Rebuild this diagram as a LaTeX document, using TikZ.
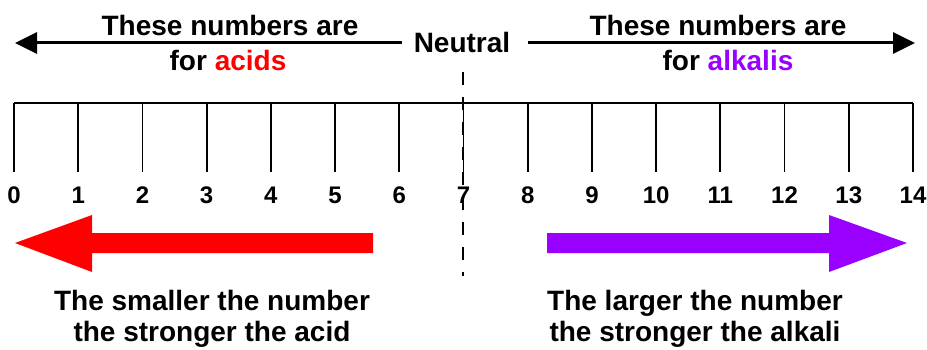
\documentclass[tikz,border=0pt]{standalone}
\usepackage{fontspec}
\setmainfont{Liberation Sans}
\usetikzlibrary{arrows.meta}
\definecolor{acidred}{RGB}{255,0,0}
\definecolor{alkpurple}{RGB}{153,0,255}
\tikzset{
  lbl/.style={font=\fontsize{28}{30}\selectfont\bfseries, inner sep=0pt, anchor=base},
  numlbl/.style={font=\fontsize{24}{26}\selectfont\bfseries, inner sep=0pt},
  rule/.style={line width=1.8pt, black},
  toparrow/.style={line width=3pt, -{Triangle[length=22pt,width=21pt]}},
  neutralline/.style={line width=1.6pt, dash pattern=on 13pt off 12pt},
}
\begin{document}
\begin{tikzpicture}[x=1pt,y=-1pt]
\useasboundingbox (0,0) rectangle (927,350);
% top texts
\node[lbl] (la1) at (230,36) {These numbers are};
\node[lbl] (la2) at (228,71) {for \textcolor{acidred}{acids}};
\node[lbl] (ra1) at (718,36) {These numbers are};
\node[lbl] (ra2) at (728,71) {for \textcolor{alkpurple}{alkalis}};
\node[font=\fontsize{28}{30}\selectfont\bfseries, inner sep=0pt] (neutral) at (462,42) {Neutral};
\coordinate (lefttip) at (15,43);
\coordinate (righttip) at (915,43);
\coordinate (lstart) at (402,43);
\coordinate (rstart) at (528,43);
\draw[toparrow] (lstart) -- (lefttip);
\draw[toparrow] (rstart) -- (righttip);
% ruler
\coordinate (r0) at (14,103);
\coordinate (r14) at (913,103);
\draw[rule] (r0) -- (r14);
\foreach \i in {0,...,14}{
  \coordinate (t\i) at ({14+\i*64.214},103);
  \coordinate (b\i) at ({14+\i*64.214},172);
  \draw[rule] (t\i) -- (b\i);
  \node[numlbl] (n\i) at ({14+\i*64.214},195) {\i};
}
% neutral dashed line
\coordinate (dtop) at (463,72);
\coordinate (dbot) at (463,276);
\draw[neutralline] (dtop) -- (dbot);
% big arrows
\fill[acidred] (373,233) -- (92,233) -- (92,215) -- (15,243) -- (92,272) -- (92,253) -- (373,253) -- cycle;
\fill[alkpurple] (547,233) -- (829,233) -- (829,215) -- (907,243) -- (829,272) -- (829,253) -- (547,253) -- cycle;
% bottom texts
\node[lbl] (lb1) at (212,310) {The smaller the number};
\node[lbl] (lb2) at (212,341) {the stronger the acid};
\node[lbl] (rb1) at (695,310) {The larger the number};
\node[lbl] (rb2) at (695,341) {the stronger the alkali};
\end{tikzpicture}
\end{document}
